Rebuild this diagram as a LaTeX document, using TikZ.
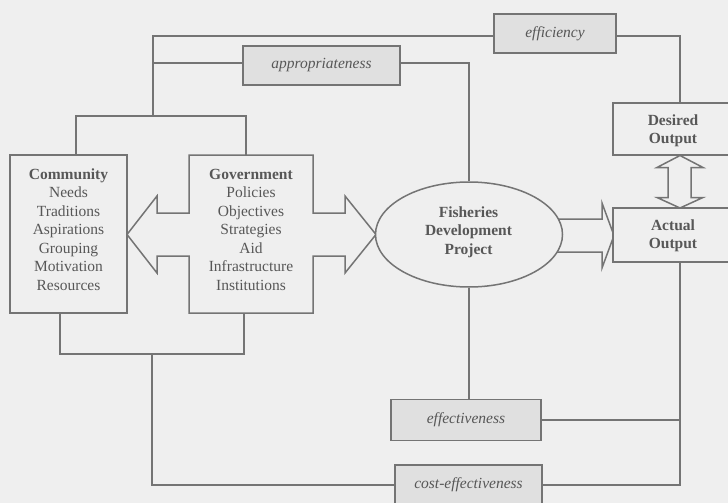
\documentclass[tikz,border=0pt]{standalone}
\usepackage{fontspec}
\setmainfont{Liberation Serif}
\usetikzlibrary{shapes.geometric,calc}
\definecolor{bg}{HTML}{EFEFEF}
\definecolor{ln}{HTML}{747474}
\definecolor{lab}{HTML}{E0E0E0}
\definecolor{tx}{HTML}{575757}
\begin{document}
\begin{tikzpicture}[x=1pt,y=-1pt,
  every node/.style={font=\fontsize{15.5}{18.5}\selectfont, text=tx},
  conn/.style={draw=ln, line width=1.5pt},
  mainbox/.style={draw=ln, line width=1.5pt, fill=bg, inner sep=0pt},
  ghost/.style={inner sep=0pt},
  labbox/.style={draw=ln, line width=1.5pt, fill=lab, inner sep=0pt,
                 font=\fontsize{15.5}{18.5}\selectfont\itshape},
  txt/.style={align=center, inner sep=0pt},
  shapeline/.style={draw=ln, line width=1.5pt, fill=bg, line join=miter}
]
\useasboundingbox (0,0) rectangle (728,503);
\fill[bg] (0,0) rectangle (728,503);
\clip (0,0) rectangle (728,503);

% Community
\node[mainbox, minimum width=117pt, minimum height=158pt] (comm) at (68.5,234) {};
\node[txt] (commtxt) at (68.5,229.5) {\textbf{Community}\\Needs\\Traditions\\Aspirations\\Grouping\\Motivation\\Resources};

% Government with double arrow
\draw[shapeline] (189,155) -- (313,155) -- (313,213) -- (345,213) -- (345,196)
  -- (376,234.5) -- (345,273) -- (345,256) -- (313,256) -- (313,313) -- (189,313)
  -- (189,256) -- (157,256) -- (157,273) -- (127,234.5) -- (157,196) -- (157,213)
  -- (189,213) -- cycle;
\node[ghost, minimum width=124pt, minimum height=158pt] (govbox) at (251,234) {};
\node[txt] (gov) at (251,229.5) {\textbf{Government}\\Policies\\Objectives\\Strategies\\Aid\\Infrastructure\\Institutions};

% arrow project -> actual output
\draw[shapeline] (540,219) -- (602,219) -- (602,203) -- (614,235.5) -- (602,268)
  -- (602,252) -- (540,252) -- cycle;

% Project ellipse
\node[draw=ln, line width=1.5pt, fill=bg, ellipse, minimum width=187pt,
      minimum height=105pt, inner sep=0pt] (fdp) at (469,234.5) {};
\node[txt, font=\fontsize{15.5}{18.5}\selectfont\bfseries] (fdptxt) at (468.5,232)
  {Fisheries\\Development\\Project};

% Output boxes
\node[mainbox, minimum width=120pt, minimum height=52pt] (des) at (673,129) {};
\node[txt, font=\fontsize{15.5}{18.5}\selectfont\bfseries] (destxt) at (673,131) {Desired\\Output};
\node[mainbox, minimum width=120pt, minimum height=54pt] (act) at (673,235) {};
\node[txt, font=\fontsize{15.5}{18.5}\selectfont\bfseries] (acttxt) at (673,236) {Actual\\Output};

% vertical double arrow
\draw[shapeline] (680,155.5) -- (703,167.5) -- (691,167.5) -- (691,197.5) -- (703,197.5)
  -- (680,208) -- (657,197.5) -- (668,197.5) -- (668,167.5) -- (657,167.5) -- cycle;

% label boxes
\node[labbox, minimum width=122pt, minimum height=39pt] (eff) at (555,33.5) {efficiency};
\node[labbox, minimum width=157pt, minimum height=39pt] (app) at (321.5,65.5) {appropriateness};
\node[labbox, minimum width=150pt, minimum height=41pt] (effv) at (466,420) {effectiveness};
\node[labbox, minimum width=147pt, minimum height=40pt] (ceff) at (468.5,485) {cost-effectiveness};

% helper coordinates
\coordinate (t1) at (76,116);
\coordinate (t2) at (246,116);
\coordinate (t3) at (153,116);
\coordinate (t4) at (153,36);
\coordinate (t5) at (153,63);
\coordinate (vx) at (680,0);
\coordinate (b1) at (60,354);
\coordinate (b2) at (244,354);
\coordinate (b3) at (152,354);
\coordinate (b4) at (152,485);

% connectors
\draw[conn] (comm.north -| t1) -- (t1) -- (t2) -- (govbox.north -| t2);
\draw[conn] (t3) -- (t4) -- (t4 -| eff.west);
\draw[conn] (t5) -- (t5 -| app.west);
\draw[conn] (app.east |- t5) -| (fdp.north);
\draw[conn] (eff.east |- t4) -| (des.north -| vx);
\draw[conn] (comm.south -| b1) -- (b1) -- (b2) -- (govbox.south -| b2);
\draw[conn] (b3) -- (b4) -- (ceff.west |- b4);
\draw[conn] (fdp.south) -- (fdp.south |- effv.north);
\draw[conn] (effv.east) -- (effv.east -| vx);
\draw[conn] (ceff.east) -| (act.south -| vx);
\end{tikzpicture}
\end{document}
